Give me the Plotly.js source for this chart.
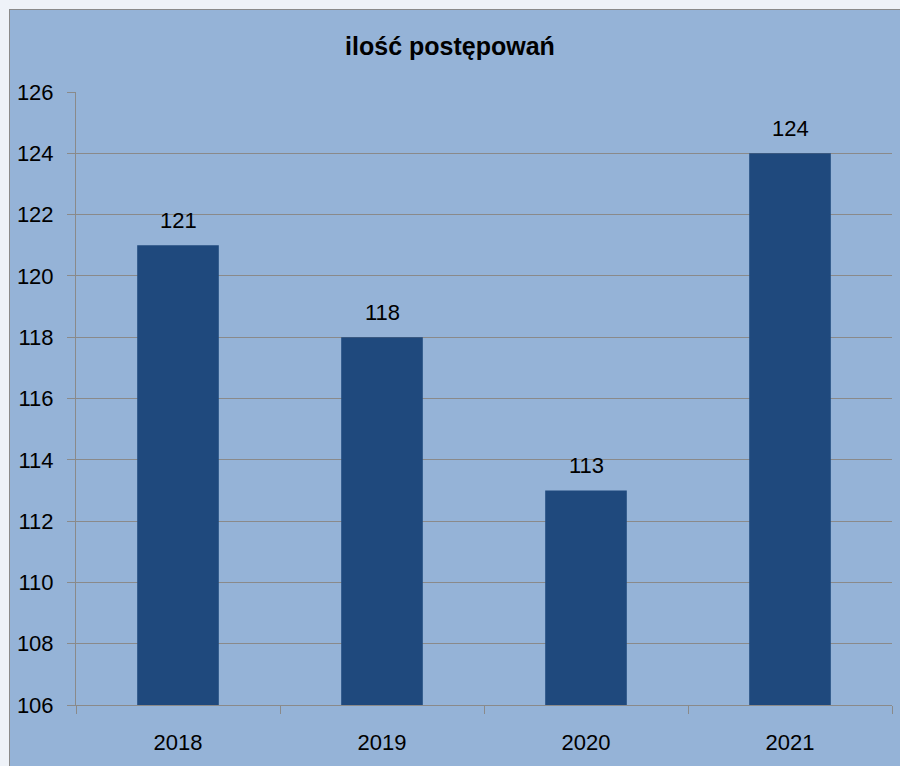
<!DOCTYPE html>
<html><head><meta charset="utf-8">
<script src="https://cdn.plot.ly/plotly-3.0.1.min.js"></script>
<style>
html,body{margin:0;padding:0;background:#EEF2F8;width:900px;height:766px;overflow:hidden;}
#frame{position:absolute;left:9px;top:9px;width:900px;height:766px;background:#95B3D7;border:1px solid #8A8A8A;box-sizing:border-box;}
#chart{position:absolute;left:0;top:0;width:900px;height:766px;}
</style></head>
<body>
<div id="frame"></div>
<div id="chart"></div>
<script>
const categories = ["2018", "2019", "2020", "2021"];
const values = [121, 118, 113, 124];
const yTicks = [106, 108, 110, 112, 114, 116, 118, 120, 122, 124, 126];
const titleText = "ilość postępowań";
const axisMin = 106;

const fontFam = "'Liberation Sans Narrow', 'Liberation Sans', Arial, sans-serif";

Plotly.newPlot('chart', [{
  type: 'bar',
  x: categories,
  y: values.map(v => v - axisMin),
  base: axisMin,
  marker: {color: '#1F497D', line: {width: 0}},
  hoverinfo: 'none'
}], {
  width: 900, height: 766,
  margin: {l: 76, r: 8, t: 92, b: 61},
  paper_bgcolor: 'rgba(0,0,0,0)',
  plot_bgcolor: 'rgba(0,0,0,0)',
  bargap: 0.6,
  showlegend: false,
  title: {text: '<b>' + titleText + '</b>', font: {family: fontFam, size: 25, color: '#000'}, x: 0.5, xanchor: 'center', y: 1 - 46/766, yanchor: 'middle'},
  annotations: values.map((v, i) => ({
    x: i, y: v, xref: 'x', yref: 'y',
    text: String(v), showarrow: false,
    yanchor: 'bottom', yshift: 10,
    font: {family: fontFam, size: 22, color: '#000'}
  })),
  xaxis: {
    type: 'category',
    range: [-0.5, categories.length - 0.5],
    showline: true, linecolor: '#8A8A8A', linewidth: 1,
    ticks: 'outside', tickson: 'boundaries', ticklen: 8, tickcolor: '#8A8A8A',
    ticklabelstandoff: 18,
    tickangle: 0,
    showgrid: false,
    tickfont: {family: fontFam, size: 22, color: '#000'},
    fixedrange: true
  },
  yaxis: {
    range: [106, 126],
    tickvals: yTicks,
    showline: true, linecolor: '#8A8A8A', linewidth: 1,
    ticks: 'outside', ticklen: 8, tickcolor: '#8A8A8A',
    ticklabelstandoff: 9,
    showgrid: true, gridcolor: '#8A8A8A', gridwidth: 1,
    zeroline: false,
    tickfont: {family: fontFam, size: 22, color: '#000'},
    fixedrange: true
  }
}, {displayModeBar: false, staticPlot: true});
</script>
</body></html>
